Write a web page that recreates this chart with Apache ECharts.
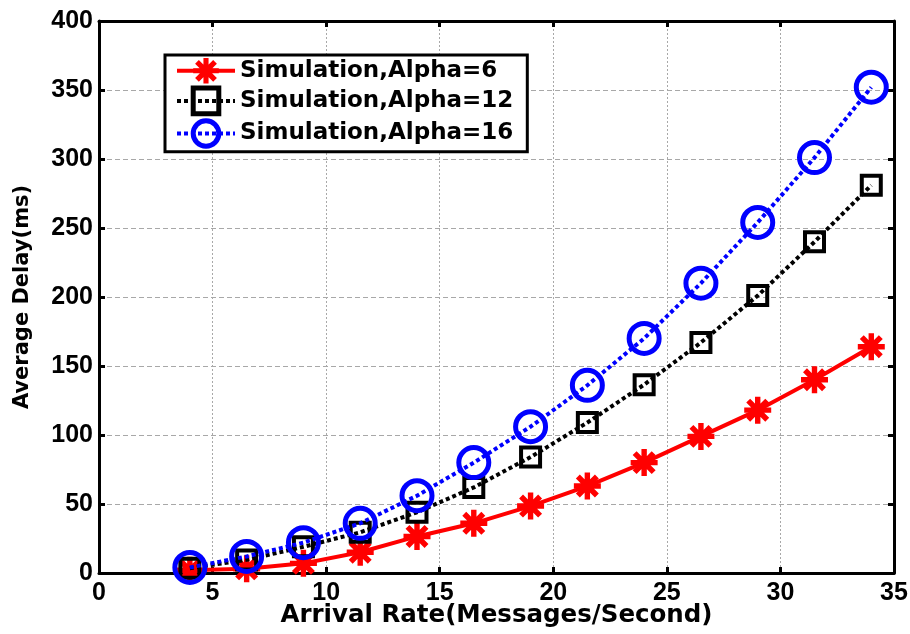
<!DOCTYPE html>
<html>
<head>
<meta charset="utf-8">
<script src="https://cdn.jsdelivr.net/npm/echarts@6/dist/echarts.min.js"></script>
<style>
  html, body { margin: 0; padding: 0; background: #fff; }
  #chart { width: 910px; height: 634px; }
</style>
</head>
<body>
<div id="chart"></div>
<script>
// Arrival rates (messages/second)
const arrivalRates = [4, 6.5, 9, 11.5, 14, 16.5, 19, 21.5, 24, 26.5, 29, 31.5, 34];
// Average delay (ms) for each alpha setting
const delayAlpha6  = [2, 3, 7, 15, 26.5, 36, 48.5, 63, 80, 99, 118, 140, 164];
const delayAlpha12 = [3.5, 9.5, 19, 29.5, 44, 62, 84, 109, 136.5, 167, 201, 240, 281];
const delayAlpha16 = [4, 12, 22, 36, 56, 80, 106, 136, 170, 210, 254, 301, 352];
const seriesNames = ['Simulation,Alpha=6', 'Simulation,Alpha=12', 'Simulation,Alpha=16'];
const xTicks = [0, 5, 10, 15, 20, 25, 30, 35];
const yTicks = [0, 50, 100, 150, 200, 250, 300, 350, 400];

const pairs = ys => arrivalRates.map((x, i) => [x, ys[i]]);

// eight-armed asterisk marker
const starPath = 'path://' +
  'M-10,-2 L10,-2 L10,2 L-10,2 Z ' +
  'M-2,-10 L2,-10 L2,10 L-2,10 Z ' +
  'M-5.6,-8.5 L8.5,5.6 L5.6,8.5 L-8.5,-5.6 Z ' +
  'M5.6,-8.5 L8.5,-5.6 L-5.6,8.5 L-8.5,5.6 Z';

const TICK_FONT = 'Liberation Sans, Arial, sans-serif';
const WIDE_FONT = 'DejaVu Sans, Verdana, sans-serif';

const baseX = {
  type: 'value',
  min: xTicks[0],
  max: xTicks[xTicks.length - 1],
  interval: 5,
  axisLine: { show: true, onZero: false, lineStyle: { color: '#000', width: 3 } },
  axisTick: { show: true, inside: true, length: 6, lineStyle: { color: '#000', width: 3 } },
};
const baseY = {
  type: 'value',
  min: yTicks[0],
  max: yTicks[yTicks.length - 1],
  interval: 50,
  axisLine: { show: true, onZero: false, lineStyle: { color: '#000', width: 3 } },
  axisTick: { show: true, inside: true, length: 6, lineStyle: { color: '#000', width: 3 } },
};

const chart = echarts.init(document.getElementById('chart'), null, { renderer: 'canvas' });
chart.setOption({
  backgroundColor: '#fff',
  animation: false,
  grid: { left: 99, right: 16, top: 21, bottom: 61, containLabel: false, outerBoundsMode: 'none' },
  xAxis: [
    Object.assign({}, baseX, {
      position: 'bottom',
      name: 'Arrival Rate(Messages/Second)',
      nameLocation: 'middle',
      nameGap: 30,
      nameMoveOverlap: false,
      nameTextStyle: { fontFamily: WIDE_FONT, fontWeight: 'bold', fontSize: 24.5, color: '#000' },
      axisLabel: { fontFamily: TICK_FONT, fontWeight: 'bold', fontSize: 25, color: '#000', margin: 8 },
      splitLine: { show: true, lineStyle: { color: '#a8a8a8', width: 1, type: [2, 2] } },
    }),
    Object.assign({}, baseX, {
      position: 'top',
      axisLabel: { show: false },
      splitLine: { show: false },
    }),
  ],
  yAxis: [
    Object.assign({}, baseY, {
      position: 'left',
      name: 'Average Delay(ms)',
      nameLocation: 'middle',
      nameGap: 66,
      nameMoveOverlap: false,
      nameTextStyle: { fontFamily: WIDE_FONT, fontWeight: 'bold', fontSize: 21, color: '#000' },
      axisLabel: { fontFamily: TICK_FONT, fontWeight: 'bold', fontSize: 25, color: '#000', margin: 6 },
      splitLine: { show: true, lineStyle: { color: '#a8a8a8', width: 1, type: [5, 3] } },
    }),
    Object.assign({}, baseY, {
      position: 'right',
      axisLabel: { show: false },
      splitLine: { show: false },
    }),
  ],
  legend: {
    orient: 'vertical',
    left: 165,
    top: 55,
    padding: [3, 14, 3, 10],
    itemGap: 2,
    itemWidth: 58,
    itemHeight: 32,
    backgroundColor: '#fff',
    borderColor: '#000',
    borderWidth: 3,
    borderRadius: 0,
    lineStyle: { width: 4 },
    textStyle: { fontFamily: WIDE_FONT, fontWeight: 'bold', fontSize: 23, color: '#000' },
    data: [
      { name: seriesNames[0] },
      { name: seriesNames[1], itemStyle: { borderWidth: 5 } },
      { name: seriesNames[2], itemStyle: { borderWidth: 5 } },
    ],
  },
  series: [
    {
      name: seriesNames[0],
      type: 'line',
      data: pairs(delayAlpha6),
      symbol: starPath,
      symbolSize: 27,
      itemStyle: { color: '#ff0000' },
      lineStyle: { color: '#ff0000', width: 4, type: 'solid' },
      z: 3,
    },
    {
      name: seriesNames[1],
      type: 'line',
      data: pairs(delayAlpha12),
      symbol: 'rect',
      symbolSize: 19,
      itemStyle: { color: 'rgba(0,0,0,0)', borderColor: '#000', borderWidth: 4 },
      lineStyle: { color: '#000', width: 4, type: [4, 3] },
      z: 4,
    },
    {
      name: seriesNames[2],
      type: 'line',
      data: pairs(delayAlpha16),
      symbol: 'circle',
      symbolSize: 30,
      itemStyle: { color: 'rgba(0,0,0,0)', borderColor: '#0000ff', borderWidth: 5 },
      lineStyle: { color: '#0000ff', width: 4, type: [4, 3] },
      z: 5,
    },
  ],
});
</script>
</body>
</html>
